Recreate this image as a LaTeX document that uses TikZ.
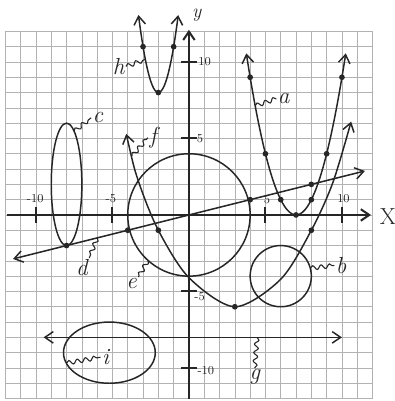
\documentclass[tikz,border=0pt]{standalone}
\usetikzlibrary{arrows.meta,decorations.pathmorphing}
\begin{document}
\begin{tikzpicture}[x=0.4cm,y=0.4cm,
  gridline/.style={line width=0.45pt, black!30},
  curve/.style={line width=1.1pt, black!85},
  axis/.style={line width=1.5pt, black!85},
  endtip/.style={-{Straight Barb[length=2.2mm,width=3mm]}},
  twotips/.style={{Straight Barb[length=2.2mm,width=3mm]}-{Straight Barb[length=2.2mm,width=3mm]}},
  dot/.style={circle, fill=black!85, inner sep=0pt, minimum size=1.5mm},
  lbl/.style={font=\LARGE\itshape, inner sep=1pt, text=black!85},
  num/.style={font=\small, inner sep=0.5pt, text=black!85},
  squig/.style={line width=0.8pt, black!85, decorate, decoration={snake, amplitude=0.55mm, segment length=2.2mm}}
]
\useasboundingbox[fill=white] (-12.35,-12.16) rectangle (13.46,14.05);
% grid
\draw[gridline, xstep=0.4cm, ystep=0.4cm] (-12,-12) grid (12,12);
% axes
\coordinate (xl) at (-11.9,0);
\coordinate (xr) at (11.9,0);
\coordinate (yb) at (0,-12);
\coordinate (yt) at (0,12.1);
\draw[axis,endtip] (xl) -- (xr);
\draw[axis,endtip] (yb) -- (yt);
\node[font=\LARGE, text=black!85] (xlab) at (13,-0.1) {X};
\node[font=\Large\itshape, text=black!85] (ylab) at (0.5,13.05) {y};
\foreach \t in {-10,-5,5,10} {
  \draw[axis] (\t,-0.5) -- (\t,0.5);
  \draw[axis] (-0.5,\t) -- (0.5,\t);
}
\node[num] (xm10) at (-10.05,1.1) {-10};
\node[num] (xm5) at (-5.1,1.05) {-5};
\node[num] (xp5) at (5.1,1.0) {5};
\node[num] (xp10) at (10.1,1.05) {10};
\node[num,anchor=west] (yp10) at (0.55,10) {10};
\node[num,anchor=west] (yp5) at (0.45,5) {5};
\node[num,anchor=west] (ym5) at (0.3,-5.35) {-5};
\node[num,anchor=west] (ym10) at (0.5,-10.2) {-10};
% h
\draw[curve,twotips] plot[domain=-3.3:-0.7, smooth, samples=30] (\x, {3*(\x+2)^2+8});
% a
\draw[curve,twotips] plot[domain=3.75:10.25, smooth, samples=40] (\x, {(\x-7)^2});
% f
\draw[curve,twotips] plot[smooth] coordinates {(-4.1,5.3) (-3.3,2.2) (-2,-1) (0,-4.1) (3,-6) (6,-4.2) (8,-1) (9.4,2.1) (10.6,6.1)};
% d
\coordinate (dl) at (-11.5,-2.875);
\coordinate (dr) at (11.5,2.875);
\draw[curve,twotips] (dl) -- (dr);
% g
\coordinate (gl) at (-9.5,-8);
\coordinate (gr) at (10,-8);
\draw[curve,twotips] (gl) -- (gr);
% c, i, e, b
\draw[curve] (-8,2) ellipse [x radius=1, y radius=4];
\draw[curve] (-5.2,-9) ellipse [x radius=3, y radius=2];
\draw[curve] (0,0) circle [radius=4];
\draw[curve] (6,-4) circle [radius=2];
% dots
\foreach \p in {(-3,11),(-1,11),(-2,8),(4,9),(5,4),(6,1),(7,0),(8,1),(9,4),(10,9),(-8,-2),(-4,-1),(4,1),(8,2),(-2,-1),(3,-6),(8,-1)}
  \node[dot] at \p {};
% labels
\node[lbl] (lh) at (-4.6,9.7) {h};
\node[lbl] (la) at (6.2,7.6) {a};
\node[lbl] (lc) at (-5.95,6.35) {c};
\node[lbl] (lf) at (-2.35,5.05) {f};
\node[lbl] (lb) at (9.95,-3.3) {b};
\node[lbl] (ld) at (-7.0,-3.45) {d};
\node[lbl] (le) at (-3.75,-4.5) {e};
\node[lbl] (li) at (-5.45,-9.3) {i};
\node[lbl] (lg) at (4.3,-10.6) {g};
% attach points
\coordinate (ph) at (-2.85,10.17);
\coordinate (pa) at (4.33,7.13);
\coordinate (pc) at (-7.5,5.46);
\coordinate (pf) at (-3.72,3.85);
\coordinate (pb) at (7.93,-3.48);
\coordinate (pd) at (-6,-1.5);
\coordinate (pe) at (-2.68,-2.97);
\coordinate (pi) at (-8.0,-9.68);
\coordinate (pg) at (4.45,-8);
\draw[squig] (lh.east) -- (ph);
\draw[squig] (pa) -- (la.west);
\draw[squig] (pc) -- (lc.west);
\draw[squig] (pf) -- (lf.west);
\draw[squig] (pb) -- (lb.west);
\draw[squig] (pd) -- (ld.north east);
\draw[squig] (pe) -- (le.north east);
\draw[squig] (pi) -- (li.west);
\draw[squig] (pg) -- (lg.north);
\end{tikzpicture}
\end{document}
